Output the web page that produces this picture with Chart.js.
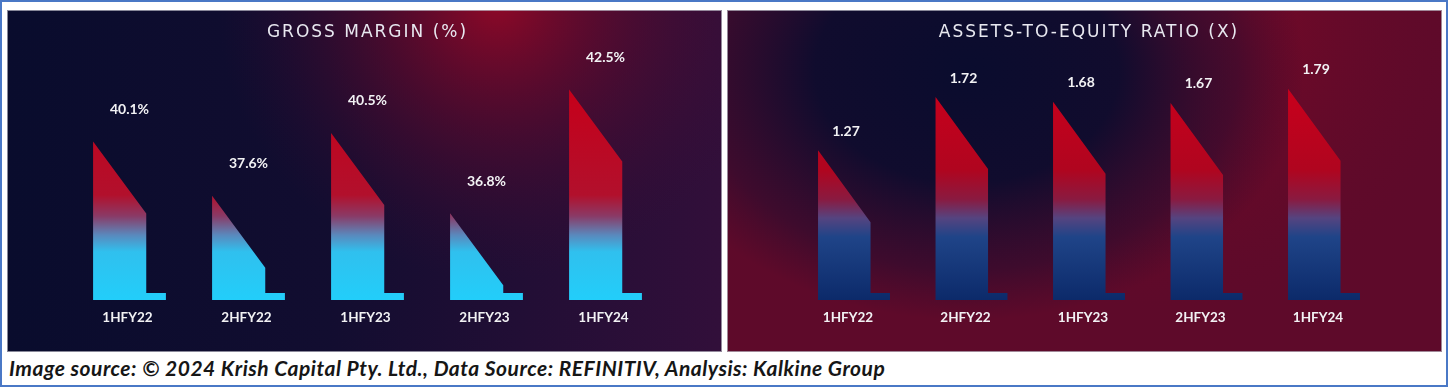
<!DOCTYPE html>
<html>
<head>
<meta charset="utf-8">
<script src="https://cdn.jsdelivr.net/npm/chart.js@4.4.1/dist/chart.umd.min.js"></script>
<style>
  html, body { margin: 0; padding: 0; background: #ffffff; }
  #frame { position: relative; width: 1448px; height: 387px; box-sizing: border-box; border: 2px solid #4a78c6; background: #fff; overflow: hidden; }
  #c1 { position: absolute; left: 5px; top: 8px; }
  #c2 { position: absolute; left: 725px; top: 8px; }
  #caption { position: absolute; left: 7px; top: 353px; font-family: 'Lato', 'Liberation Sans', sans-serif; font-weight: 700; font-style: italic; font-size: 21px; color: #161616; white-space: nowrap; letter-spacing: 0.5px; }
</style>
</head>
<body>
<div id="frame">
  <canvas id="c1" width="715" height="342"></canvas>
  <canvas id="c2" width="715" height="342"></canvas>
  <div id="caption">Image source: © 2024 Krish Capital Pty. Ltd., Data Source: REFINITIV, Analysis: Kalkine Group</div>
</div>
<script>
// ---- data ----
const categories = ['1HFY22', '2HFY22', '1HFY23', '2HFY23', '1HFY24'];
const grossMargin = [40.1, 37.6, 40.5, 36.8, 42.5];
const grossMarginLabels = ['40.1%', '37.6%', '40.5%', '36.8%', '42.5%'];
const assetsToEquity = [1.27, 1.72, 1.68, 1.67, 1.79];
const assetsToEquityLabels = ['1.27', '1.72', '1.68', '1.67', '1.79'];
const titleLeft = 'GROSS MARGIN (%)';
const titleRight = 'ASSETS-TO-EQUITY RATIO (X)';

// ---- plugins ----
const panelBg = {
  id: 'panelBg',
  beforeDraw(chart, args, opts) {
    const ctx = chart.ctx, W = chart.width, H = chart.height;
    ctx.save();
    if (opts.kind === 'left') {
      const g = ctx.createLinearGradient(0, 0, W, 0);
      g.addColorStop(0, '#090c2d');
      g.addColorStop(0.45, '#120d30');
      g.addColorStop(1, '#320f3a');
      ctx.fillStyle = g; ctx.fillRect(0, 0, W, H);
      const r = ctx.createRadialGradient(490, -10, 0, 490, -10, 280);
      r.addColorStop(0, 'rgba(150,8,38,0.95)');
      r.addColorStop(0.35, 'rgba(120,8,40,0.6)');
      r.addColorStop(1, 'rgba(60,10,50,0)');
      ctx.fillStyle = r; ctx.fillRect(0, 0, W, H);
    } else {
      ctx.fillStyle = '#5e0a2a'; ctx.fillRect(0, 0, W, H);
      const r2 = ctx.createRadialGradient(440, 0, 0, 440, 0, 300);
      r2.addColorStop(0, 'rgba(135,8,38,0.9)');
      r2.addColorStop(1, 'rgba(100,10,40,0)');
      ctx.fillStyle = r2; ctx.fillRect(0, 0, W, H);
      ctx.save();
      ctx.translate(240, 60);
      ctx.scale(1.35, 1);
      const n = ctx.createRadialGradient(0, 0, 0, 0, 0, 250);
      n.addColorStop(0, 'rgba(10,12,46,1)');
      n.addColorStop(0.45, 'rgba(12,12,46,0.95)');
      n.addColorStop(0.8, 'rgba(30,12,48,0.5)');
      n.addColorStop(1, 'rgba(40,10,45,0)');
      ctx.fillStyle = n; ctx.fillRect(-400, -200, 800, 600);
      ctx.restore();
    }
    ctx.strokeStyle = 'rgba(190,190,200,0.7)';
    ctx.lineWidth = 1;
    ctx.strokeRect(0.5, 0.5, W - 1, H - 1);
    ctx.restore();
    // letter spacing for the title only (reset before datasets/ticks)
    ctx.letterSpacing = '2px';
  },
  beforeDatasetsDraw(chart) {
    chart.ctx.letterSpacing = '0px';
  }
};

const shapedBars = {
  id: 'shapedBars',
  afterDatasetsDraw(chart, args, opts) {
    const ctx = chart.ctx;
    const meta = chart.getDatasetMeta(0);
    const bottom = chart.chartArea.bottom;
    const g = ctx.createLinearGradient(0, 80, 0, bottom);
    opts.stops.forEach(s => g.addColorStop(s[0], s[1]));
    ctx.save();
    ctx.letterSpacing = '0px';
    meta.data.forEach((el, i) => {
      const p = el.getProps(['x', 'y', 'base', 'width'], true);
      const base = Math.min(p.base, bottom);
      const left = p.x - p.width / 2;
      const right = p.x + p.width / 2;
      const bodyRight = left + p.width * 0.73;
      const h = base - p.y;
      const drop = Math.min(72, h - 12);
      ctx.beginPath();
      ctx.moveTo(left, p.y);
      ctx.lineTo(bodyRight, p.y + drop);
      ctx.lineTo(bodyRight, base - 7);
      ctx.lineTo(right, base - 7);
      ctx.lineTo(right, base);
      ctx.lineTo(left, base);
      ctx.closePath();
      ctx.fillStyle = g;
      ctx.fill();
      // value label
      ctx.fillStyle = '#f2f2f4';
      ctx.font = "bold 14px 'Lato', 'Liberation Sans', sans-serif";
      ctx.textAlign = 'center';
      ctx.textBaseline = 'middle';
      ctx.fillText(opts.labels[i], p.x + opts.labelDx, p.y - opts.labelDy);
    });
    ctx.restore();
  }
};

function makeChart(id, values, labels, title, yMin, yMax, pad, kind, stops, labelDx, labelDy, tickOffset) {
  return new Chart(document.getElementById(id), {
    type: 'bar',
    data: {
      labels: categories,
      datasets: [{ data: values, base: yMin, backgroundColor: 'rgba(0,0,0,0)', borderWidth: 0, barPercentage: 1, categoryPercentage: 0.612 }]
    },
    options: {
      responsive: false,
      animation: false,
      events: [],
      layout: { padding: { left: pad.left, right: pad.right, top: 0, bottom: 0 } },
      plugins: {
        legend: { display: false },
        tooltip: { enabled: false },
        title: {
          display: true, text: title, color: '#e8e8f0',
          font: { family: "'DejaVu Sans', sans-serif", size: 17, weight: 'normal', lineHeight: 1.2 },
          padding: { top: 12, bottom: 7.6 }
        },
        panelBg: { kind: kind },
        shapedBars: { stops: stops, labels: labels, labelDx: labelDx, labelDy: labelDy }
      },
      scales: {
        x: {
          grid: { display: false, drawTicks: false },
          border: { display: false },
          ticks: { color: '#f2f2f4', font: { family: "'Lato', 'Liberation Sans', sans-serif", size: 13.5, weight: 'bold' }, padding: 10, z: 1, labelOffset: tickOffset, maxRotation: 0 },
          afterFit(s) { s.height = 52; }
        },
        y: { display: false, min: yMin, max: yMax }
      }
    },
    plugins: [panelBg, shapedBars]
  });
}

const leftStops = [[0, '#c6001a'], [0.5, '#b2102c'], [0.6, '#8a3a66'], [0.69, '#5a88bc'], [0.77, '#30c0ee'], [1, '#22cefa']];
const rightStops = [[0, '#c8001c'], [0.38, '#b0051f'], [0.52, '#8a1a40'], [0.61, '#554480'], [0.7, '#1f4488'], [1, '#0c2a6a']];

makeChart('c1', grossMargin, grossMarginLabels, titleLeft, 32.8, 32.8 + 250 / 21.7, { left: 63, right: 57 }, 'left', leftStops, 0, 32, -2);
makeChart('c2', assetsToEquity, assetsToEquityLabels, titleRight, 0, 250 / 118, { left: 68.25, right: 59.25 }, 'right', rightStops, -8, 19, -6);
</script>
</body>
</html>
